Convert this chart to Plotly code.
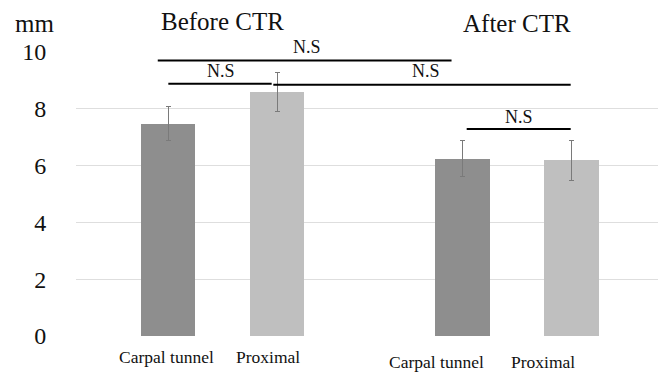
import plotly.graph_objects as go

# ---- data ----
groups = ["Before CTR", "After CTR"]
sites = ["Carpal tunnel", "Proximal"]
carpal_mean = [7.48, 6.25]
carpal_sd = [0.60, 0.63]
proximal_mean = [8.59, 6.18]
proximal_sd = [0.69, 0.72]
y_ticks = [0, 2, 4, 6, 8, 10]
sig_label = "N.S"

# ---- layout helpers ----
GROUP_STEP = 2.7
FONT = "Times New Roman, Liberation Serif, DejaVu Serif, serif"
colors = ["#8e8e8e", "#bfbfbf"]
series = [(sites[0], carpal_mean, carpal_sd), (sites[1], proximal_mean, proximal_sd)]

W, H = 658, 373
ML, MR, MT, MB = 76, 0, 52, 37
PW, PH = W - ML - MR, H - MT - MB


def px(xp):
    return (xp - ML) / PW


def py(yp):
    return (H - MB - yp) / PH


fig = go.Figure()
for s, (name, mean, sd) in enumerate(series):
    xs = [g * GROUP_STEP + s for g in range(len(groups))]
    fig.add_trace(go.Bar(
        x=xs, y=mean, name=name, width=0.5,
        marker=dict(color=colors[s], line=dict(width=0)),
        error_y=dict(type="data", array=sd, visible=True, color="#7a7a7a",
                     thickness=1, width=2.5),
        showlegend=False,
    ))

annotations = []


def add_text(xp, yp, text, size):
    annotations.append(dict(x=px(xp), y=py(yp), xref="paper", yref="paper",
                            text=text, showarrow=False, xanchor="center", yanchor="middle",
                            font=dict(family=FONT, size=size, color="#111")))


# group titles
add_text(222.8, 22, groups[0], 25)
add_text(516.7, 23, groups[1], 25)
# unit label
add_text(34.5, 23, "mm", 25)
# category labels under bars (hand-placed as in original)
label_pos = [(166.5, 357), (268, 357), (436.5, 362), (543, 362)]
for i, (lx, ly) in enumerate(label_pos):
    add_text(lx, ly, sites[i % 2], 17.5)

# significance brackets: (x0, x1, yline, xlabel px, ylabel px)
brackets = [
    (-0.094, 2.601, 9.70, 306.5, 46.5),
    (0.003, 0.951, 8.88, 220.7, 71.2),
    (0.966, 3.694, 8.85, 425.7, 71.2),
    (2.740, 3.694, 7.29, 519.0, 117.0),
]
shapes = []
for x0, x1, yl, lx, ly in brackets:
    shapes.append(dict(type="line", x0=x0, x1=x1, y0=yl, y1=yl, xref="x", yref="y",
                       line=dict(color="#000", width=2)))
    add_text(lx, ly, sig_label, 18)

fig.update_layout(
    width=W, height=H,
    margin=dict(l=ML, r=MR, t=MT, b=MB),
    paper_bgcolor="white", plot_bgcolor="white",
    font=dict(family=FONT),
    annotations=annotations, shapes=shapes,
    xaxis=dict(range=[-0.844, 4.495], showticklabels=False, showgrid=False,
               zeroline=False, showline=False),
    yaxis=dict(range=[0, 10], tickvals=y_ticks, showgrid=True, gridcolor="#dedede",
               gridwidth=1, zeroline=False, showline=False, ticks="outside",
               ticklen=0, tickcolor="white", ticklabelstandoff=24,
               tickfont=dict(family=FONT, size=24, color="#111")),
    bargap=0,
)

fig.write_html("out.html")
